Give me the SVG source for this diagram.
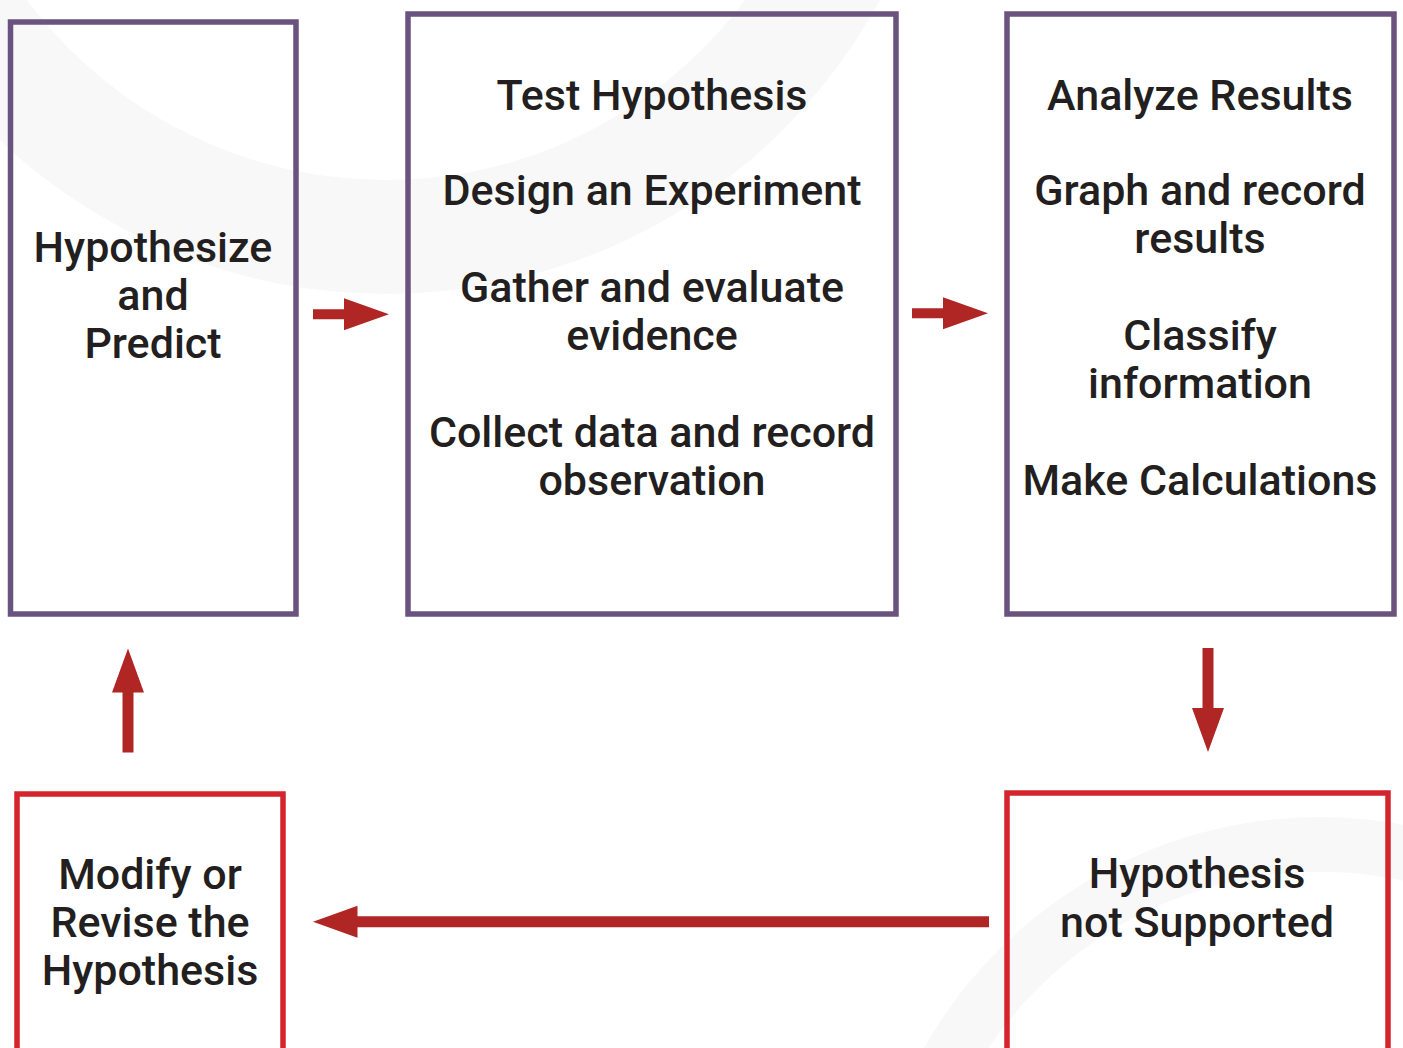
<svg xmlns="http://www.w3.org/2000/svg" width="1403" height="1048" viewBox="0 0 1403 1048">
  <style>
    .bg { fill: #f8f8f8; }
    .box-p { fill: none; stroke: #6b5380; stroke-width: 5.5; }
    .box-r { fill: none; stroke: #d4252d; stroke-width: 5.5; }
    .lbl { font-family: Roboto, "Liberation Sans", sans-serif; font-weight: 500; font-size: 43px; fill: #231f20; text-anchor: middle; }
    .arr { fill: #b02624; }
  </style>
  <rect width="1403" height="1048" fill="#ffffff"/>
  <g id="background">
    <path class="bg" fill-rule="evenodd" d="M 948 -268 A 562 562 0 1 1 -176 -268 A 562 562 0 1 1 948 -268 Z M 834 -268 A 448 448 0 1 0 -62 -268 A 448 448 0 1 0 834 -268 Z"/>
    <path class="bg" fill-rule="evenodd" d="M 1775 1272 A 455 455 0 1 1 865 1272 A 455 455 0 1 1 1775 1272 Z M 1720 1272 A 400 400 0 1 0 920 1272 A 400 400 0 1 0 1720 1272 Z"/>
  </g>
  <g id="node-hypothesize">
    <rect class="box-p" x="10.5" y="22" width="285.5" height="592"/>
    <text class="lbl" x="153" y="262">Hypothesize</text>
    <text class="lbl" x="153" y="310">and</text>
    <text class="lbl" x="153" y="358">Predict</text>
  </g>
  <g id="node-test">
    <rect class="box-p" x="408" y="14" width="488" height="600"/>
    <text class="lbl" x="652" y="110">Test Hypothesis</text>
    <text class="lbl" x="652" y="205">Design an Experiment</text>
    <text class="lbl" x="652" y="302">Gather and evaluate</text>
    <text class="lbl" x="652" y="350">evidence</text>
    <text class="lbl" x="652" y="447">Collect data and record</text>
    <text class="lbl" x="652" y="495">observation</text>
  </g>
  <g id="node-analyze">
    <rect class="box-p" x="1007" y="14" width="387" height="600"/>
    <text class="lbl" x="1200" y="110">Analyze Results</text>
    <text class="lbl" x="1200" y="205">Graph and record</text>
    <text class="lbl" x="1200" y="253">results</text>
    <text class="lbl" x="1200" y="350">Classify</text>
    <text class="lbl" x="1200" y="398">information</text>
    <text class="lbl" x="1200" y="495">Make Calculations</text>
  </g>
  <g id="node-not-supported">
    <rect class="box-r" x="1007" y="793" width="381" height="270"/>
    <text class="lbl" x="1197" y="888">Hypothesis</text>
    <text class="lbl" x="1197" y="937">not Supported</text>
  </g>
  <g id="node-modify">
    <rect class="box-r" x="17" y="794" width="266" height="270"/>
    <text class="lbl" x="150" y="889">Modify or</text>
    <text class="lbl" x="150" y="937">Revise the</text>
    <text class="lbl" x="150" y="985">Hypothesis</text>
  </g>
  <g id="connectors">
    <path class="arr" d="M 313 309.3 L 344 309.3 L 344 298.3 L 389 314.3 L 344 330.3 L 344 319.3 L 313 319.3 Z"/>
    <path class="arr" d="M 912 308.3 L 943 308.3 L 943 297.3 L 988 313.3 L 943 329.3 L 943 318.3 L 912 318.3 Z"/>
    <path class="arr" d="M 1202.5 648 L 1213.5 648 L 1213.5 708 L 1224 708 L 1208 752 L 1192 708 L 1202.5 708 Z"/>
    <path class="arr" d="M 989 916.2 L 357.5 916.2 L 357.5 905.7 L 313 921.7 L 357.5 937.7 L 357.5 927.2 L 989 927.2 Z"/>
    <path class="arr" d="M 122.5 752.5 L 133.5 752.5 L 133.5 692.5 L 144 692.5 L 128 648.5 L 112 692.5 L 122.5 692.5 Z"/>
  </g>
</svg>
